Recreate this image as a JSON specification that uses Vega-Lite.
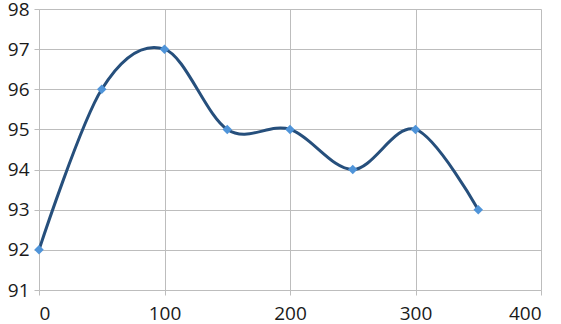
{
  "$schema": "https://vega.github.io/schema/vega-lite/v6.json",
  "width": 502,
  "height": 281,
  "autosize": {"type": "none"},
  "padding": {"left": 39, "top": 9, "right": 20, "bottom": 34},
  "background": "white",
  "data": {"values": [
    {"x": 0, "y": 92},
    {"x": 50, "y": 96},
    {"x": 100, "y": 97},
    {"x": 150, "y": 95},
    {"x": 200, "y": 95},
    {"x": 250, "y": 94},
    {"x": 300, "y": 95},
    {"x": 350, "y": 93}
  ]},
  "config": {
    "view": {"stroke": null},
    "axis": {
      "grid": true,
      "gridColor": "#bdbdbd",
      "gridWidth": 1,
      "domainColor": "#bdbdbd",
      "tickColor": "#bdbdbd",
      "tickSize": 5,
      "labelFont": "Open Sans",
      "labelFontSize": 19,
      "labelColor": "#1a1a1a",
      "title": null
    }
  },
  "encoding": {
    "x": {"field": "x", "type": "quantitative", "scale": {"domain": [0, 400], "nice": false},
      "axis": {"values": [0, 100, 200, 300, 400], "labelPadding": 9, "domain": false}},
    "y": {"field": "y", "type": "quantitative", "scale": {"domain": [91, 98], "nice": false, "zero": false},
      "axis": {"values": [91, 92, 93, 94, 95, 96, 97, 98], "labelPadding": 5, "domain": true}}
  },
  "layer": [
    {"mark": {"type": "line", "interpolate": "cardinal", "color": "#264f7c", "strokeWidth": 3}},
    {"mark": {"type": "point", "shape": "diamond", "filled": true, "color": "#4f94d9", "opacity": 1, "size": 90}}
  ]
}
